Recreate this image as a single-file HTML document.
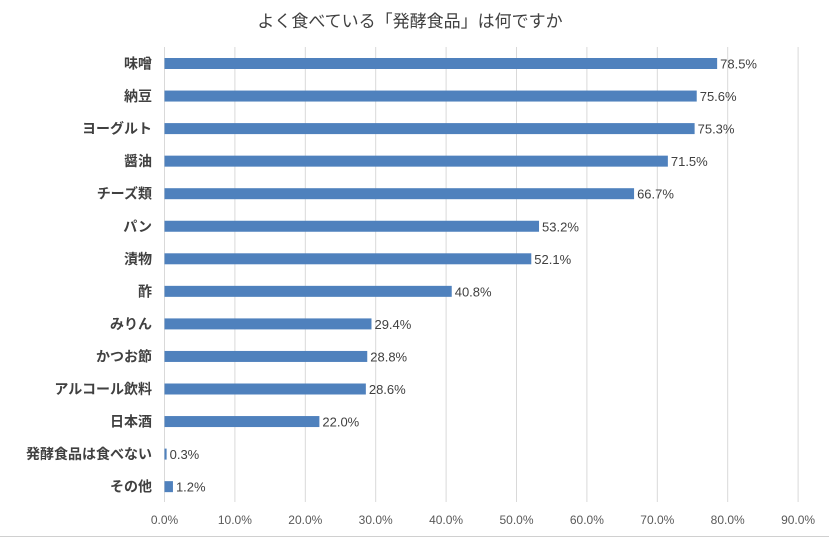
<!DOCTYPE html>
<html><head><meta charset="utf-8"><style>
body{margin:0;background:#fff;}
svg{display:block;font-family:"Liberation Sans","Noto Sans CJK JP",sans-serif;}
</style></head><body>
<svg id="c" width="829" height="539">
<rect x="0" y="0" width="829" height="539" fill="#fff"/>
<line x1="0" y1="536.5" x2="829" y2="536.5" stroke="#d0d0d0"/>
<text x="410" y="27" text-anchor="middle" font-size="17" fill="#404040">よく食べている「発酵食品」は何ですか</text>
</svg>
<script>
const categories=["味噌","納豆","ヨーグルト","醤油","チーズ類","パン","漬物","酢","みりん","かつお節","アルコール飲料","日本酒","発酵食品は食べない","その他"];
const values=[78.5,75.6,75.3,71.5,66.7,53.2,52.1,40.8,29.4,28.8,28.6,22.0,0.3,1.2];
const ticks=[0,10,20,30,40,50,60,70,80,90];
const svg=document.getElementById('c');
const NS="http://www.w3.org/2000/svg";
const x0=164.5,pxPer=7.04;
const xs=v=>x0+v*pxPer;
const y0=63.5,step=32.55;
const ys=i=>y0+i*step;
function mk(t,a){const e=document.createElementNS(NS,t);for(const k in a)e.setAttribute(k,a[k]);svg.appendChild(e);return e;}
ticks.forEach(t=>{
  const g=mk('line',{x1:xs(t),x2:xs(t),y1:47,y2:502,stroke:'#d9d9d9','stroke-width':1});
  
  
  const l=mk('text',{x:xs(t),y:524,'text-anchor':'middle','font-size':12,fill:'#595959'});
  l.textContent=t.toFixed(1)+'%';
  
  
});
categories.forEach((c,i)=>{
  const y=ys(i);
  const b=mk('rect',{x:x0,y:y-5.5,width:Math.max(xs(values[i])-x0,1.5),height:11,fill:'#4f81bd'});
  
  
  const lb=mk('text',{x:152,y:y+5,'text-anchor':'end','font-size':14,'font-weight':'bold',fill:'#404040'});
  lb.textContent=c;
  
  
  const v=mk('text',{x:xs(values[i])+3,y:y+5,'font-size':13,fill:'#404040'});
  v.textContent=values[i].toFixed(1)+'%';
  
  
});
</script>
</body></html>
